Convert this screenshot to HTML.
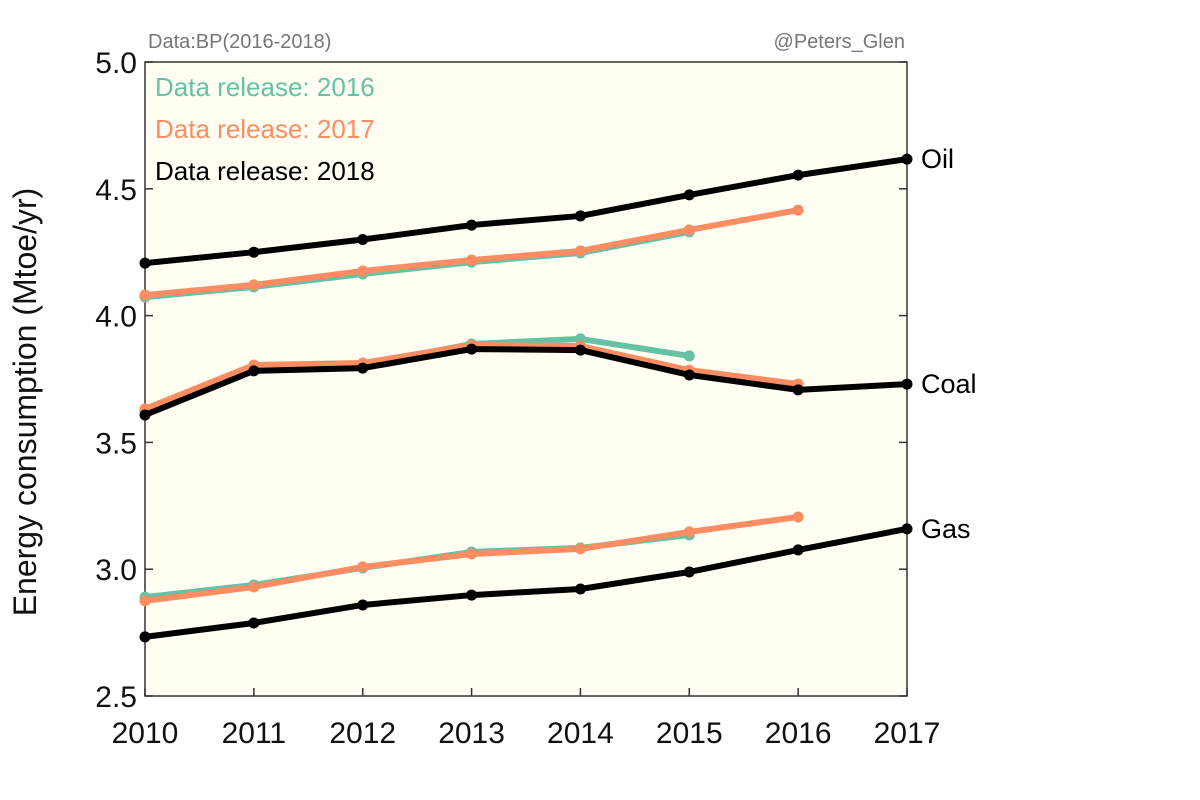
<!DOCTYPE html>
<html><head><meta charset="utf-8"><style>
body{margin:0;background:#fff;}
svg{display:block;font-family:"Liberation Sans",sans-serif;}
</style></head><body>
<svg id="chart" width="1200" height="800">
<rect x="145" y="62" width="762" height="634" fill="#fefef3" stroke="#333" stroke-width="1.5"/>
<text x="148" y="48" font-size="20" fill="#777">Data:BP(2016-2018)</text>
<text x="905" y="48" font-size="20" fill="#777" text-anchor="end">@Peters_Glen</text>
<text transform="translate(36,402) rotate(-90)" font-size="32" text-anchor="middle" fill="#111">Energy consumption (Mtoe/yr)</text>
<g id="axes"></g>
<g id="series"></g>
<text x="155" y="96" font-size="26" fill="#66c2a5">Data release: 2016</text>
<text x="155" y="138" font-size="26" fill="#fc8d62">Data release: 2017</text>
<text x="155" y="180" font-size="26" fill="#000">Data release: 2018</text>
</svg>
<script>
const years=[2010,2011,2012,2013,2014,2015,2016,2017];
const yTicks=[2.5,3.0,3.5,4.0,4.5,5.0];
const oil2016=[4.073,4.113,4.164,4.211,4.247,4.330];
const oil2017=[4.081,4.121,4.176,4.219,4.255,4.338,4.416];
const oil2018=[4.207,4.250,4.300,4.357,4.393,4.476,4.554,4.617];
const coal2016=[3.624,3.797,3.805,3.888,3.908,3.841];
const coal2017=[3.632,3.805,3.813,3.884,3.880,3.785,3.730];
const coal2018=[3.608,3.782,3.793,3.868,3.864,3.766,3.707,3.730];
const gas2016=[2.890,2.938,3.005,3.068,3.084,3.135];
const gas2017=[2.875,2.930,3.009,3.060,3.080,3.147,3.206];
const gas2018=[2.733,2.788,2.859,2.898,2.922,2.989,3.076,3.159];
const X0=145,X1=907,Y0=696,Y1=62;
const xs=i=>X0+(years[i]-2010)/(2017-2010)*(X1-X0);
const ys=v=>Y0-(v-2.5)/(5-2.5)*(Y0-Y1);
const NS="http://www.w3.org/2000/svg";
const axes=document.getElementById('axes'),ser=document.getElementById('series');
function mk(tag,at,parent){const e=document.createElementNS(NS,tag);for(const k in at)e.setAttribute(k,at[k]);parent.appendChild(e);return e;}
yTicks.forEach(v=>{
  const y=ys(v);
  let t=mk('line',{x1:X0,x2:X0+8,y1:y,y2:y,stroke:'#333','stroke-width':1.5},axes);
  
  
  let t2=mk('line',{x1:X1-8,x2:X1,y1:y,y2:y,stroke:'#333','stroke-width':1.5},axes);
  
  
  let l=mk('text',{x:X0-8,y:y+11,'font-size':30,'text-anchor':'end',fill:'#111'},axes);
  l.textContent=v.toFixed(1);
  
  
});
years.forEach((yr,i)=>{
  const x=xs(i);
  let t=mk('line',{x1:x,x2:x,y1:Y0,y2:Y0-8,stroke:'#333','stroke-width':1.5},axes);
  
  
  let l=mk('text',{x:x,y:743,'font-size':30,'text-anchor':'middle',fill:'#111'},axes);
  l.textContent=yr;
  
  
});
function draw(arr,color,name,w){
  const g=mk('g',{},ser);
  
  
  const p=mk('polyline',{points:arr.map((v,i)=>xs(i)+','+ys(v)).join(' '),fill:'none',stroke:color,'stroke-width':w,'stroke-linejoin':'round'},g);
  
  
  arr.forEach((v,i)=>{
    const c=mk('circle',{cx:xs(i),cy:ys(v),r:5.5,fill:color},g);
    
    
  });
}
draw(oil2016,'#66c2a5','oil-2016',6);draw(oil2017,'#fc8d62','oil-2017',6);draw(oil2018,'#000','oil-2018',6);
draw(coal2016,'#66c2a5','coal-2016',6);draw(coal2017,'#fc8d62','coal-2017',6);draw(coal2018,'#000','coal-2018',6);
draw(gas2016,'#66c2a5','gas-2016',6);draw(gas2017,'#fc8d62','gas-2017',6);draw(gas2018,'#000','gas-2018',6);
[['Oil',oil2018],['Coal',coal2018],['Gas',gas2018]].forEach(([n,a])=>{
  const l=mk('text',{x:X1+14,y:ys(a[a.length-1])+9,'font-size':27,fill:'#000'},ser);
  l.textContent=n;
  
  
});
</script>
</body></html>
